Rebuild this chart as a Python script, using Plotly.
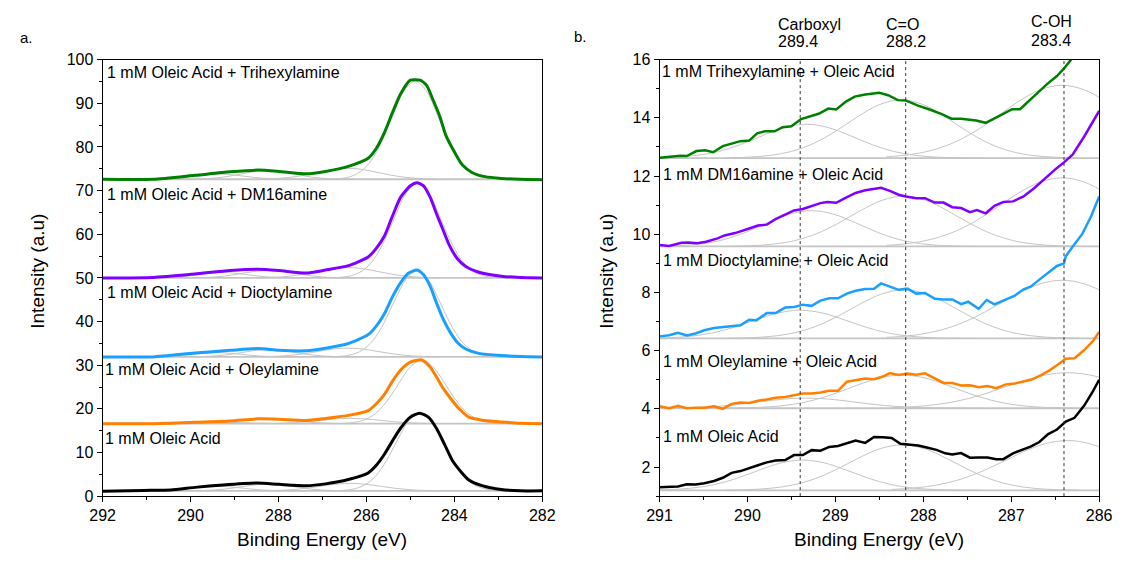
import plotly.graph_objects as go

W, H = 1132, 563
FONT = "Arial, 'Liberation Sans', Helvetica, sans-serif"

# ---------------- metadata (top to bottom) ----------------
LEFT_LABELS = ["1 mM Oleic Acid + Trihexylamine", "1 mM Oleic Acid + DM16amine",
               "1 mM Oleic Acid + Dioctylamine", "1 mM Oleic Acid + Oleylamine",
               "1 mM Oleic Acid"]
RIGHT_LABELS = ["1 mM Trihexylamine + Oleic Acid", "1 mM DM16amine + Oleic Acid",
                "1 mM Dioctylamine + Oleic Acid", "1 mM Oleylamine + Oleic Acid",
                "1 mM Oleic Acid"]
COLORS = ["#008000", "#8000ff", "#1a9fff", "#ff8000", "#000000"]
GRAY = "#c4c4c4"

# ---------------- panel a: full C1s spectra ----------------
A_X = [
    [292, 290.85, 289.9, 289.1, 288.47, 287.99, 287.37, 286.93, 286.41, 285.96, 285.78, 285.59, 285.41,
     285.22, 285.0, 284.78, 284.63, 284.48, 284.33, 284.19, 284.0, 283.82, 283.59, 283.3, 282.93, 282.5, 282],
    [292, 290.85, 289.9, 289.1, 288.47, 287.99, 287.37, 286.93, 286.41, 285.96, 285.78, 285.59, 285.41,
     285.22, 285.0, 284.85, 284.7, 284.55, 284.41, 284.26, 284.11, 283.93, 283.74, 283.44, 282.93, 282.5, 282],
    [292, 290.85, 289.9, 289.1, 288.47, 287.99, 287.37, 286.93, 286.41, 285.96, 285.78, 285.59, 285.41,
     285.22, 285.04, 284.85, 284.7, 284.55, 284.41, 284.26, 284.11, 283.93, 283.74, 283.44, 282.93, 282.5, 282],
    [292, 290.85, 289.9, 289.1, 288.47, 287.99, 287.37, 286.93, 286.41, 285.96, 285.78, 285.59, 285.41,
     285.22, 285.0, 284.74, 284.55, 284.41, 284.26, 284.07, 283.89, 283.67, 283.37, 282.93, 282.5, 282],
    [292, 291.09, 290.45, 289.9, 289.26, 288.47, 287.99, 287.37, 286.93, 286.41, 285.96, 285.78, 285.59,
     285.41, 285.22, 285.0, 284.79, 284.59, 284.41, 284.22, 284.04, 283.85, 283.67, 283.37, 282.93, 282.5, 282],
]
A_Y = [
    [72.6, 72.6, 73.5, 74.3, 74.7, 74.4, 73.85, 74.4, 75.55, 77.4, 79.6, 83.3, 87.8,
     92.2, 95.3, 95.3, 94.1, 90.7, 87.0, 82.6, 78.9, 75.9, 74.1, 73.2, 72.8, 72.6, 72.5],
    [50.0, 50.1, 50.9, 51.7, 52.0, 51.7, 51.1, 51.8, 52.8, 54.8, 56.7, 59.6, 64.1,
     68.5, 71.1, 71.8, 71.1, 68.5, 64.8, 61.1, 57.4, 54.4, 52.6, 51.3, 50.4, 50.1, 50.0],
    [31.9, 31.9, 32.8, 33.4, 33.8, 33.4, 33.3, 33.9, 34.96, 37.0, 38.9, 41.8, 45.6,
     48.9, 51.1, 51.8, 50.7, 48.1, 44.4, 40.7, 37.8, 35.2, 33.7, 32.7, 32.2, 32.0, 31.9],
    [16.6, 16.6, 16.9, 17.2, 17.7, 17.6, 17.3, 17.8, 18.5, 19.6, 21.1, 23.3, 26.3,
     28.9, 30.7, 31.2, 29.6, 27.4, 24.8, 22.2, 20.0, 18.1, 17.4, 17.0, 16.7, 16.6],
    [1.1, 1.3, 1.4, 2.0, 2.55, 3.0, 2.7, 2.36, 2.8, 3.8, 5.3, 7.0, 9.6,
     12.6, 15.6, 18.1, 19.0, 18.1, 15.6, 11.8, 8.1, 5.6, 3.7, 2.4, 1.5, 1.2, 1.2],
]
A_BASELINE = [72.6, 50.0, 31.9, 16.6, 1.2]
MAIN_CENTER = [284.89, 284.84, 284.85, 284.74, 284.79]
MAIN_HEIGHT = [22.5, 21.6, 19.7, 14.5, 17.7]

# ---------------- panel b: expanded high-BE region ----------------
B_X = [
    [291.0, 290.76, 290.69, 290.58, 290.48, 290.39, 290.28, 290.17, 290.08, 289.98, 289.89, 289.80, 289.69,
     289.60, 289.50, 289.39, 289.28, 289.19, 289.08, 288.99, 288.88, 288.78, 288.66, 288.50, 288.40, 288.29,
     288.20, 288.06, 287.92, 287.79, 287.68, 287.57, 287.40, 287.29, 287.14, 286.99, 286.90, 286.73, 286.59,
     286.48, 286.40, 286.32, 286.2, 286.0],
    [291.0, 290.89, 290.75, 290.67, 290.57, 290.47, 290.34, 290.26, 290.14, 290.06, 289.98, 289.88, 289.78,
     289.68, 289.57, 289.47, 289.37, 289.29, 289.17, 289.09, 288.99, 288.89, 288.77, 288.66, 288.48, 288.38,
     288.28, 288.20, 288.08, 287.98, 287.87, 287.77, 287.67, 287.57, 287.47, 287.39, 287.29, 287.19, 287.09,
     286.98, 286.86, 286.74, 286.60, 286.48, 286.40, 286.30, 286.17, 286.07, 286.0],
    [291.0, 290.89, 290.79, 290.69, 290.59, 290.49, 290.38, 290.28, 290.18, 290.08, 289.98, 289.90, 289.78,
     289.68, 289.57, 289.47, 289.37, 289.27, 289.17, 289.07, 288.97, 288.87, 288.77, 288.66, 288.56, 288.48,
     288.38, 288.28, 288.18, 288.08, 287.98, 287.87, 287.77, 287.67, 287.57, 287.49, 287.37, 287.28, 287.19,
     287.09, 286.96, 286.86, 286.78, 286.68, 286.58, 286.48, 286.40, 286.38, 286.30, 286.19, 286.09, 286.0],
    [291.0, 290.89, 290.79, 290.69, 290.59, 290.49, 290.38, 290.28, 290.18, 290.08, 289.98, 289.88, 289.78,
     289.68, 289.57, 289.47, 289.37, 289.27, 289.17, 289.07, 288.97, 288.87, 288.77, 288.66, 288.56, 288.46,
     288.38, 288.28, 288.18, 288.08, 287.98, 287.87, 287.77, 287.67, 287.57, 287.47, 287.37, 287.27, 287.17,
     287.06, 286.96, 286.86, 286.76, 286.66, 286.56, 286.48, 286.38, 286.28, 286.17, 286.07, 286.0],
    [291.0, 290.89, 290.79, 290.69, 290.59, 290.49, 290.38, 290.28, 290.18, 290.08, 289.98, 289.88, 289.78,
     289.68, 289.57, 289.47, 289.37, 289.27, 289.17, 289.07, 288.97, 288.87, 288.77, 288.66, 288.56, 288.46,
     288.36, 288.26, 288.16, 288.06, 287.96, 287.85, 287.75, 287.67, 287.57, 287.47, 287.37, 287.27, 287.17,
     287.09, 286.98, 286.88, 286.78, 286.68, 286.58, 286.48, 286.38, 286.28, 286.17, 286.07, 286.0],
]
B_Y = [
    [12.63, 12.70, 12.69, 12.86, 12.89, 12.82, 13.03, 13.13, 13.20, 13.22, 13.47, 13.54, 13.54,
     13.68, 13.71, 13.96, 14.06, 14.14, 14.32, 14.29, 14.56, 14.73, 14.80, 14.86, 14.78, 14.61,
     14.60, 14.42, 14.28, 14.13, 13.97, 13.97, 13.91, 13.83, 14.06, 14.30, 14.30, 14.78, 15.17,
     15.44, 15.70, 16.0, 16.5, 17.4],
    [9.63, 9.60, 9.71, 9.72, 9.69, 9.74, 9.86, 9.96, 10.04, 10.13, 10.20, 10.30, 10.33,
     10.52, 10.67, 10.82, 10.87, 10.94, 11.07, 11.11, 11.08, 11.24, 11.42, 11.51, 11.60, 11.49,
     11.36, 11.30, 11.24, 11.24, 11.09, 11.09, 10.93, 10.90, 10.76, 10.83, 10.72, 10.98, 11.11,
     11.13, 11.30, 11.58, 11.97, 12.28, 12.47, 12.74, 13.36, 13.86, 14.24],
    [6.49, 6.53, 6.61, 6.52, 6.59, 6.70, 6.78, 6.81, 6.82, 6.87, 7.06, 7.04, 7.29,
     7.29, 7.48, 7.50, 7.58, 7.54, 7.72, 7.80, 7.80, 7.96, 8.06, 8.12, 8.13, 8.31,
     8.20, 8.09, 8.13, 7.96, 7.98, 7.78, 7.76, 7.76, 7.60, 7.68, 7.44, 7.74, 7.59,
     7.72, 7.89, 8.11, 8.20, 8.44, 8.69, 8.91, 9.0, 9.24, 9.58, 10.02, 10.63, 11.30],
    [4.09, 4.02, 4.10, 4.02, 4.04, 4.04, 4.09, 4.00, 4.17, 4.22, 4.20, 4.28, 4.32,
     4.38, 4.41, 4.47, 4.53, 4.53, 4.56, 4.62, 4.62, 4.93, 4.98, 5.04, 5.02, 5.11,
     5.23, 5.16, 5.21, 5.17, 5.22, 5.06, 4.89, 4.89, 4.80, 4.81, 4.74, 4.78, 4.71,
     4.84, 4.87, 4.94, 5.01, 5.16, 5.33, 5.50, 5.72, 5.74, 6.02, 6.33, 6.64],
    [1.30, 1.31, 1.33, 1.41, 1.40, 1.44, 1.52, 1.63, 1.80, 1.86, 1.97, 2.06, 2.16,
     2.22, 2.24, 2.41, 2.41, 2.58, 2.56, 2.69, 2.72, 2.82, 2.91, 2.83, 3.03, 3.02,
     3.00, 2.80, 2.77, 2.74, 2.67, 2.59, 2.47, 2.43, 2.48, 2.32, 2.33, 2.33, 2.27,
     2.27, 2.47, 2.58, 2.70, 2.86, 3.13, 3.29, 3.56, 3.69, 4.11, 4.61, 5.0],
]
B_BASELINE = [12.62, 9.58, 6.42, 4.02, 1.2]

# ---------------- fitted components (shape read per 0.25 eV step) ----------------
FIT_OFFSETS = [-2.0, -1.75, -1.5, -1.25, -1.0, -0.75, -0.5, -0.25, 0.0,
               0.25, 0.5, 0.75, 1.0, 1.25, 1.5, 1.75, 2.0]
CARBOXYL_SHAPE = [0.001, 0.006, 0.024, 0.076, 0.191, 0.395, 0.662, 0.902, 1.0,
                  0.902, 0.662, 0.395, 0.191, 0.076, 0.024, 0.006, 0.001]
CO_SHAPE = [0.004, 0.014, 0.044, 0.114, 0.249, 0.458, 0.707, 0.917, 1.0,
            0.917, 0.707, 0.458, 0.249, 0.114, 0.044, 0.014, 0.004]
COH_SHAPE = [0.017, 0.044, 0.101, 0.203, 0.360, 0.563, 0.775, 0.938, 1.0,
             0.938, 0.775, 0.563, 0.360, 0.203, 0.101, 0.044, 0.017]
MAIN_SHAPE = [0.001, 0.006, 0.024, 0.076, 0.191, 0.395, 0.662, 0.902, 1.0,
              0.902, 0.662, 0.395, 0.191, 0.076, 0.024, 0.006, 0.001]

CARBOXYL_CENTER = [289.33, 289.27, 289.40, 289.33, 289.37]
CARBOXYL_HEIGHT = [1.16, 1.23, 0.97, 0.35, 1.04]
CO_CENTER = [288.25, 288.22, 288.22, 288.24, 288.24]
CO_HEIGHT = [2.0, 1.73, 1.67, 1.14, 1.56]
COH_CENTER = [286.42, 286.42, 286.42, 286.36, 286.36]
COH_HEIGHT = [2.5, 2.36, 2.0, 1.22, 1.71]

PEAK_LINES = [289.4, 288.2, 286.4]
PEAK_NAMES = ["Carboxyl", "C=O", "C-OH"]
PEAK_VALUES = ["289.4", "288.2", "283.4"]

A_XRANGE = [292, 282]
A_YRANGE = [0, 100]
B_XRANGE = [291, 286]
B_YRANGE = [1, 16]

# ---------------- figure ----------------
fig = go.Figure()


def comp(center, height, base, shape):
    xs = [center + o for o in FIT_OFFSETS]
    ys = [base + height * s for s in shape]
    return xs, ys


def gray(xs, ys, xa, ya, width=1.0, shape="spline"):
    fig.add_trace(go.Scatter(x=xs, y=ys, mode="lines", xaxis=xa, yaxis=ya,
                             line=dict(color=GRAY, width=width, shape=shape),
                             hoverinfo="skip", showlegend=False))


# gray fit components, panel a
for i in range(5):
    b = A_BASELINE[i]
    gray(A_XRANGE, [b, b], "x", "y", width=1.8, shape="linear")
    for c, h, s in ((CARBOXYL_CENTER[i], CARBOXYL_HEIGHT[i], CARBOXYL_SHAPE),
                    (CO_CENTER[i], CO_HEIGHT[i], CO_SHAPE),
                    (COH_CENTER[i], COH_HEIGHT[i], COH_SHAPE),
                    (MAIN_CENTER[i], MAIN_HEIGHT[i], MAIN_SHAPE)):
        xs, ys = comp(c, h, b, s)
        gray(xs, ys, "x", "y")

# gray fit components, panel b
for i in range(5):
    b = B_BASELINE[i]
    gray(B_XRANGE, [b, b], "x2", "y2", width=1.8, shape="linear")
    for c, h, s in ((CARBOXYL_CENTER[i], CARBOXYL_HEIGHT[i], CARBOXYL_SHAPE),
                    (CO_CENTER[i], CO_HEIGHT[i], CO_SHAPE),
                    (COH_CENTER[i], COH_HEIGHT[i], COH_SHAPE)):
        xs, ys = comp(c, h, b, s)
        gray(xs, ys, "x2", "y2")

# measured spectra
for i in range(5):
    fig.add_trace(go.Scatter(x=A_X[i], y=A_Y[i], mode="lines", xaxis="x", yaxis="y",
                             line=dict(color=COLORS[i], width=3, shape="spline", smoothing=0.6),
                             name=LEFT_LABELS[i], showlegend=False))
    fig.add_trace(go.Scatter(x=B_X[i], y=B_Y[i], mode="lines", xaxis="x2", yaxis="y2",
                             line=dict(color=COLORS[i], width=2.5),
                             name=RIGHT_LABELS[i], showlegend=False))

# dotted reference lines in panel b
for xv in PEAK_LINES:
    fig.add_shape(type="line", xref="x2", yref="y2 domain", x0=xv, x1=xv, y0=0, y1=1,
                  line=dict(color="#333333", width=1, dash="dot"))

# ---------------- layout ----------------
def px(x):
    return x / W


def py(y):
    return 1 - y / H


XA_DOM = [px(91.7), px(541.7)]
XB_DOM = [px(661.7), px(1111.7)]
Y_DOM = [py(503.3), py(53.3)]

axis_common = dict(showgrid=False, zeroline=False, showline=True, linecolor="black",
                   linewidth=1, mirror=True, ticks="outside", ticklen=5, tickwidth=1,
                   tickcolor="black", tickfont=dict(family=FONT, size=16, color="black"))

fig.update_layout(
    width=W, height=H, margin=dict(l=0, r=0, t=0, b=0),
    paper_bgcolor="white", plot_bgcolor="white",
    font=dict(family=FONT, color="black"),
    xaxis=dict(domain=XA_DOM, range=A_XRANGE, anchor="y", dtick=2,
               minor=dict(dtick=1, ticks="outside", ticklen=3, tickcolor="black"), **axis_common),
    yaxis=dict(domain=Y_DOM, range=A_YRANGE, anchor="x", dtick=10,
               minor=dict(dtick=5, ticks="outside", ticklen=3, tickcolor="black"), **axis_common),
    xaxis2=dict(domain=XB_DOM, range=B_XRANGE, anchor="y2", dtick=1,
                minor=dict(dtick=0.5, ticks="outside", ticklen=3, tickcolor="black"), **axis_common),
    yaxis2=dict(domain=Y_DOM, range=B_YRANGE, anchor="x2", tick0=0, dtick=2,
                minor=dict(tick0=0, dtick=1, ticks="outside", ticklen=3, tickcolor="black"), **axis_common),
)

ann = []


def text(x, y, s, size=16, xanchor="left", angle=0):
    ann.append(dict(x=px(x), y=py(y), xref="paper", yref="paper", text=s, showarrow=False,
                    xanchor=xanchor, yanchor="middle", textangle=angle,
                    font=dict(family=FONT, size=size, color="black")))


LEFT_LABEL_X = [96.4, 96.4, 95.7, 94.3, 94.3]
LEFT_LABEL_Y = [66.7, 192.7, 293.3, 372.3, 444.0]
RIGHT_LABEL_X = [664, 665, 665, 665, 665]
RIGHT_LABEL_Y = [65, 171.7, 260, 364, 442.3]
for i in range(5):
    text(LEFT_LABEL_X[i] - 2, LEFT_LABEL_Y[i], LEFT_LABELS[i])
    text(RIGHT_LABEL_X[i] - 2, RIGHT_LABEL_Y[i], RIGHT_LABELS[i])

TOP_X = [782.7, 893.3, 1041.7]
TOP_Y1 = [16.7, 16.7, 14.3]
TOP_Y2 = [35.0, 35.0, 33.3]
for i in range(3):
    text(TOP_X[i] - 2, TOP_Y1[i], PEAK_NAMES[i])
    text(TOP_X[i] - 2, TOP_Y2[i], PEAK_VALUES[i])

text(5, 30, "a.", size=15)
text(572, 29.3, "b.", size=15)
text(316.7, 548.3, "Binding Energy (eV)", size=19, xanchor="center")
text(886.7, 548.3, "Binding Energy (eV)", size=19, xanchor="center")
text(25, 271.5, "Intensity (a.u)", size=19, xanchor="center", angle=-90)
text(607.4, 271.5, "Intensity (a.u)", size=19, xanchor="center", angle=-90)

fig.update_layout(annotations=ann)
fig.write_html("out.html")
